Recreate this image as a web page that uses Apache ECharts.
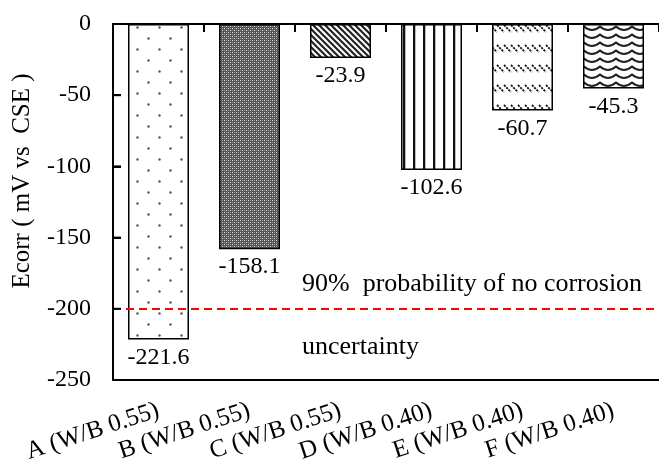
<!DOCTYPE html>
<html>
<head>
<meta charset="utf-8">
<script src="https://cdn.jsdelivr.net/npm/echarts@6/dist/echarts.min.js"></script>
<style>
html,body{margin:0;padding:0;background:#fff;}
#chart{width:659px;height:470px;}
</style>
</head>
<body>
<div id="chart"></div>
<script>
var categories = ['A (W/B 0.55)', 'B (W/B 0.55)', 'C (W/B 0.55)', 'D (W/B 0.40)', 'E (W/B 0.40)', 'F (W/B 0.40)'];
var ecorrValues = [-221.6, -158.1, -23.9, -102.6, -60.7, -45.3];
var thresholdValue = [-200];
var yTicks = [-250, -200, -150, -100, -50, 0];
var yTitle = 'Ecorr ( mV vs  CSE )';
var noteAbove = '90%  probability of no corrosion';
var noteBelow = 'uncertainty';

var FONT = 'Liberation Serif';

function makePattern(w, h, draw) {
  var c = document.createElement('canvas');
  c.width = w; c.height = h;
  var ctx = c.getContext('2d');
  ctx.fillStyle = '#fff';
  ctx.fillRect(0, 0, w, h);
  draw(ctx, w, h);
  return { image: c, repeat: 'repeat' };
}

var patterns = [
  makePattern(22, 22, function (ctx) {
    ctx.fillStyle = '#555';
    ctx.beginPath(); ctx.arc(5.5, 5.5, 1.2, 0, Math.PI * 2); ctx.fill();
    ctx.beginPath(); ctx.arc(16.5, 16.5, 1.2, 0, Math.PI * 2); ctx.fill();
  }),
  makePattern(4, 4, function (ctx) {
    ctx.fillStyle = '#555'; ctx.fillRect(0, 0, 4, 4);
    ctx.fillStyle = '#e0e0e0'; ctx.fillRect(0, 0, 1, 1); ctx.fillRect(2, 2, 1, 1);
    ctx.fillStyle = '#909090'; ctx.fillRect(2, 0, 1, 1); ctx.fillRect(0, 2, 1, 1);
  }),
  makePattern(6, 6, function (ctx) {
    ctx.strokeStyle = '#222'; ctx.lineWidth = 2.2;
    ctx.beginPath();
    ctx.moveTo(-1, -1); ctx.lineTo(7, 7);
    ctx.moveTo(-4, 2); ctx.lineTo(4, 10);
    ctx.moveTo(2, -4); ctx.lineTo(10, 4);
    ctx.stroke();
  }),
  makePattern(10, 2, function (ctx) {
    ctx.fillStyle = '#111'; ctx.fillRect(3, 0, 2, 2);
    ctx.fillStyle = '#bbb'; ctx.fillRect(5, 0, 1, 2);
  }),
  makePattern(7, 20, function (ctx) {
    ctx.strokeStyle = '#111'; ctx.lineWidth = 1.8;
    ctx.setLineDash([2.2, 1]);
    ctx.beginPath();
    ctx.moveTo(0, 5); ctx.lineTo(7, 12);
    ctx.moveTo(-7, 5); ctx.lineTo(0, 12);
    ctx.moveTo(7, 5); ctx.lineTo(14, 12);
    ctx.stroke();
  }),
  makePattern(16, 8, function (ctx) {
    ctx.strokeStyle = '#222'; ctx.lineWidth = 2;
    ctx.beginPath();
    ctx.moveTo(0, 6);
    ctx.quadraticCurveTo(4, 6, 8, 2.5);
    ctx.quadraticCurveTo(12, 6, 16, 6);
    ctx.stroke();
  })
];

var chart = echarts.init(document.getElementById('chart'), null, { renderer: 'canvas' });

var barData = ecorrValues.map(function (v, i) {
  return { value: v, itemStyle: { color: patterns[i] } };
});

var TICK_LEN = 8;

chart.setOption({
  animation: false,
  backgroundColor: '#fff',
  grid: { left: 113, right: 0, top: 24, bottom: 90, containLabel: false },
  xAxis: [
    {
      type: 'category', data: categories, position: 'bottom',
      axisLine: { onZero: false, lineStyle: { color: '#000', width: 2 } },
      axisTick: { show: false },
      axisLabel: { interval: 0, rotate: 18, margin: 30, color: '#000', fontFamily: FONT, fontSize: 25 }
    },
    {
      type: 'category', data: categories, position: 'top',
      axisLine: { show: true, onZero: false, lineStyle: { color: '#000', width: 2 } },
      axisTick: { show: true, interval: 0, inside: true, length: TICK_LEN, lineStyle: { color: '#000', width: 2 } },
      axisLabel: { show: false }
    }
  ],
  yAxis: {
    type: 'value', min: yTicks[0], max: yTicks[yTicks.length - 1], interval: 50,
    axisLine: { show: true, lineStyle: { color: '#000', width: 2 } },
    axisTick: { show: true, inside: true, length: TICK_LEN, lineStyle: { color: '#000', width: 2 } },
    splitLine: { show: false },
    axisLabel: { color: '#000', fontFamily: FONT, fontSize: 24, margin: 22 }
  },
  series: [
    {
      type: 'bar', xAxisIndex: 0, barWidth: 61,
      data: barData,
      itemStyle: { borderColor: '#000', borderWidth: 1.5 },
      label: {
        show: true, position: 'bottom', distance: 6,
        color: '#000', fontFamily: FONT, fontSize: 24,
        formatter: function (p) { return p.value.toFixed(1); }
      },
      markLine: {
        silent: true, symbol: 'none', label: { show: false },
        lineStyle: { color: '#ff0000', type: [8, 5], width: 2 },
        data: [{ yAxis: thresholdValue[0] }]
      }
    },
    {
      type: 'custom', xAxisIndex: 0, yAxisIndex: 0, silent: true, clip: false, z: 10,
      data: categories.map(function (c, i) { return [i, yTicks[yTicks.length - 1]]; }),
      renderItem: function (params, api) {
        var p = api.coord([api.value(0), api.value(1)]);
        var band = api.size([1, 0])[0];
        var children = [];
        var xs = [p[0] - band / 2];
        if (params.dataIndex === categories.length - 1) { xs.push(p[0] + band / 2); }
        xs.forEach(function (x) {
          children.push({ type: 'rect', shape: { x: x - 1, y: p[1], width: 2, height: TICK_LEN },
                          style: { fill: '#000' } });
        });
        return { type: 'group', children: children };
      }
    },
    {
      type: 'custom', xAxisIndex: 0, yAxisIndex: 0, silent: true, clip: false, z: 10,
      data: yTicks.map(function (t) { return [0, t]; }),
      renderItem: function (params, api) {
        var p = api.coord([api.value(0), api.value(1)]);
        var band = api.size([1, 0])[0];
        var x0 = p[0] - band / 2;
        return { type: 'rect', shape: { x: x0, y: p[1] - 1, width: TICK_LEN, height: 2 },
                 style: { fill: '#000' } };
      }
    }
  ],
  graphic: [
    {
      type: 'text', x: 22, y: 181, rotation: Math.PI / 2,
      style: { text: yTitle, fill: '#000', font: '25px "' + FONT + '"', align: 'center', verticalAlign: 'middle' }
    },
    {
      type: 'text', x: 302, y: 284, scaleX: 1.04,
      style: { text: noteAbove, fill: '#000', font: '25px "' + FONT + '"', align: 'left', verticalAlign: 'middle' }
    },
    {
      type: 'text', x: 302, y: 347, scaleX: 1.04,
      style: { text: noteBelow, fill: '#000', font: '25px "' + FONT + '"', align: 'left', verticalAlign: 'middle' }
    }
  ]
});
</script>
</body>
</html>
